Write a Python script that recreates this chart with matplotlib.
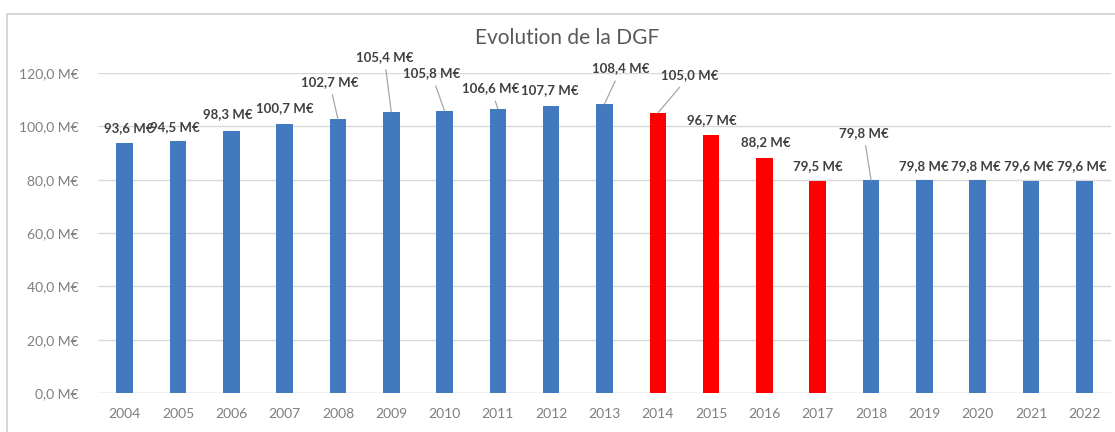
import matplotlib
matplotlib.use("Agg")
import matplotlib.pyplot as plt
from matplotlib.patches import Rectangle

years = ["2004", "2005", "2006", "2007", "2008", "2009", "2010", "2011", "2012", "2013",
         "2014", "2015", "2016", "2017", "2018", "2019", "2020", "2021", "2022"]
values = [93.6, 94.5, 98.3, 100.7, 102.7, 105.4, 105.8, 106.6, 107.7, 108.4,
          105.0, 96.7, 88.2, 79.5, 79.8, 79.8, 79.8, 79.6, 79.6]
highlight = [False] * 10 + [True] * 4 + [False] * 5
yticks = [0, 20, 40, 60, 80, 100, 120]
title = "Evolution de la DGF"

# label placement (x index, y value) and which labels have a leader line
label_pos = [(0.07, 99.4), (0.94, 99.8), (1.93, 104.6), (3.01, 106.8), (3.84, 116.7),
             (4.87, 126.1), (5.75, 119.9), (6.87, 114.2), (7.98, 113.6), (9.31, 121.7),
             (10.60, 119.2), (11.01, 102.4), (12.02, 94.2), (13.01, 85.1), (13.86, 97.6),
             (14.98, 85.1), (15.96, 85.1), (16.95, 85.1), (17.96, 85.1)]
leaders = {4, 5, 6, 7, 9, 10, 14}

BLUE = "#4279bf"
RED = "#ff0000"
FONT = "Lato"

fig = plt.figure(figsize=(11.15, 4.32), dpi=100)
W, H = 1115, 432
fig.patches.append(Rectangle((7 / W, -0.1), 1.2, 1 - 14 / H + 0.1, transform=fig.transFigure,
                             fill=False, edgecolor="#d0d0d0", linewidth=1.2))

ax = fig.add_axes([98 / W, 1 - 393 / H, (1111 - 98) / W, (393 - 73) / H])
x = list(range(len(years)))
colors = [RED if h else BLUE for h in highlight]
ax.bar(x, values, width=0.31, color=colors, zorder=3)
ax.set_xlim(-0.5, len(years) - 0.5)
ax.set_ylim(0, 120)
ax.set_yticks(yticks)
ax.set_yticklabels([f"{v:.1f}".replace(".", ",") + " M€" for v in yticks],
                   fontsize=10, color="#7f7f7f", family=FONT)
ax.set_xticks(x)
ax.set_xticklabels(years, fontsize=10, color="#7f7f7f", family=FONT)
ax.tick_params(axis="both", length=0)
ax.tick_params(axis="y", pad=14)
ax.tick_params(axis="x", pad=11)
ax.grid(axis="y", color="#d9d9d9", linewidth=1, zorder=0)
for s in ax.spines.values():
    s.set_visible(False)
ax.axhline(0, color="#d9d9d9", linewidth=1, zorder=1)

for i, (v, (lx, ly)) in enumerate(zip(values, label_pos)):
    txt = f"{v:.1f}".replace(".", ",") + " M€"
    if i in leaders:
        ax.annotate(txt, xy=(i, v), xytext=(lx, ly), ha="center", va="center",
                    fontsize=9.5, fontweight="bold", color="#404040", family=FONT,
                    arrowprops=dict(arrowstyle="-", color="#a6a6a6", lw=0.9,
                                    shrinkA=3, shrinkB=0), zorder=4)
    else:
        ax.text(lx, ly, txt, ha="center", va="center", fontsize=9.5, fontweight="bold",
                color="#404040", family=FONT, zorder=4)

fig.text(567 / W, 1 - 38 / H, title, ha="center", va="center", fontsize=15,
         color="#595959", family=FONT)

fig.savefig("out.png", dpi=100)
